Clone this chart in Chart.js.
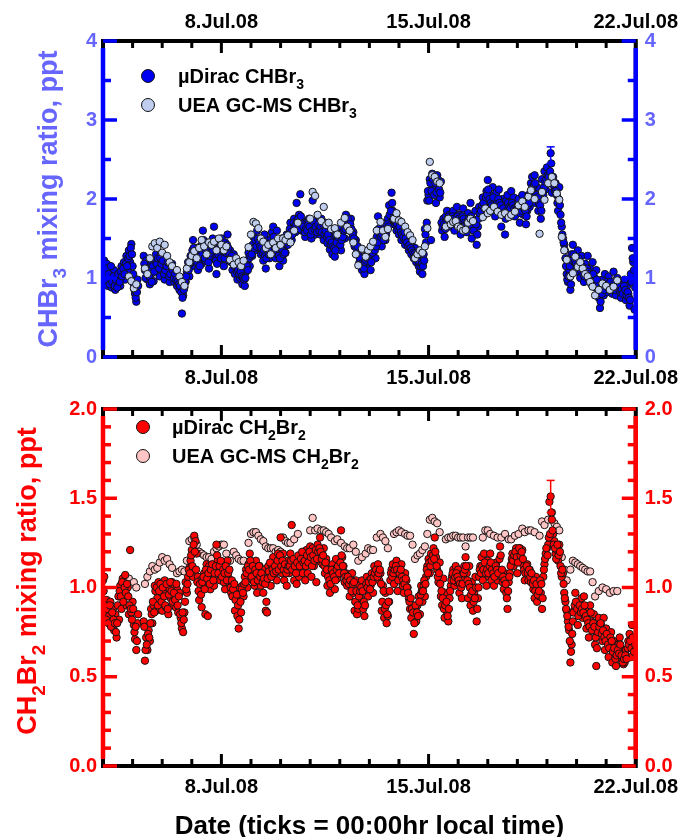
<!DOCTYPE html>
<html>
<head>
<meta charset="utf-8">
<script src="https://cdn.jsdelivr.net/npm/chart.js@4/dist/chart.umd.min.js"></script>
<style>
  html, body { margin: 0; padding: 0; background: #fff; }
  #wrap { position: relative; width: 687px; height: 837px; }
  canvas { position: absolute; left: 0; }
  #top { top: 0; }
  #bot { top: 388px; }
</style>
</head>
<body>
<div id="wrap">
  <canvas id="top" width="687" height="388"></canvas>
  <canvas id="bot" width="687" height="449"></canvas>
</div>
<script>
// x axis: day of July 2008; samples are given as hours after 4.Jul 00:00
const labelDays = [8, 15, 22];
const labelText = ["8.Jul.08", "15.Jul.08", "22.Jul.08"];

// --- µDirac: one sample on the hour and one at half past ---
const diracHours = [
  0,1,2,3,4,5,6,7,8,9,10,11,12,
  13,14,15,16,17,18,19,20,21,22,
  23,24,25,26,27,28,
  33,34,35,36,37,38,39,40,41,42,43,44,
  45,46,47,48,49,50,51,52,53,54,55,56,
  57,58,59,60,61,62,63,64,65,66,
  67,68,69,70,71,72,73,74,75,76,77,78,
  79,80,81,82,83,84,85,86,87,88,89,90,
  91,92,93,94,95,96,97,98,99,100,101,102,
  103,104,105,106,107,108,109,110,111,112,113,114,
  115,116,117,118,119,120,121,122,123,124,125,126,
  127,128,129,130,131,132,133,134,135,136,137,138,
  139,140,141,142,143,144,145,146,147,148,149,150,
  151,152,153,154,155,156,157,158,159,160,161,162,
  163,164,165,166,167,168,169,170,171,172,173,174,
  175,176,177,178,179,180,181,182,183,184,185,186,
  187,188,189,190,191,192,193,194,195,196,197,198,
  199,200,201,202,203,204,205,206,207,208,209,210,
  211,212,213,214,215,216,217,218,219,220,221,222,
  223,224,225,226,227,228,229,230,231,232,233,234,
  235,236,237,238,239,240,241,242,243,244,245,246,
  247,248,249,250,251,252,253,254,255,256,257,258,
  259,260,261,262,263,264,265,266,267,268,269,270,
  271,272,273,274,275,276,277,278,279,280,281,282,
  283,284,285,286,287,288,289,290,291,292,293,294,
  295,296,297,298,299,300,301,302,303,304,305,306,
  307,308,309,310,311,312,313,314,315,316,317,318,
  319,320,321,322,323,324,325,326,327,328,329,330,
  331,332,333,334,335,336,337,338,339,340,341,342,
  343,344,345,346,347,348,349,350,351,352,353,354,
  355,356,357,358,359,360,361,362,363,364,365,366,
  367,368,369,370,371,372,373,374,375,376,377,378,
  379,380,381,382,383,384,385,386,387,388,389,390,
  391,392,393,394,395,396,397,398,399,400,401,402,
  403,404,405,406,407,408,409,410,411,412,413,414,
  415,416,417,418,419,420,421,422,423,424,425,426,
  427,428,429,430,431
];

const diracCHBr3 = [
  1.05,1.22,0.95,1.18,0.90,1.00,1.08,0.88,0.95,1.10,0.85,1.00,0.92,
  1.05,0.90,1.15,1.00,1.20,0.98,1.28,1.10,1.35,1.20,
  1.43,1.15,0.92,0.80,0.70,0.98,
  1.28,1.10,1.22,0.98,1.15,0.92,1.05,1.20,0.96,1.12,1.30,1.08,
  1.20,1.02,1.30,1.10,1.15,0.98,1.25,1.05,1.12,0.95,1.08,1.18,
  1.05,0.95,1.10,0.90,1.00,0.85,0.92,0.55,0.78,0.88,
  0.95,1.08,1.20,1.02,1.28,1.15,1.48,1.30,1.22,1.38,1.10,1.25,
  1.40,1.18,1.60,1.35,1.22,1.45,1.30,1.12,1.38,1.25,1.50,1.65,
  1.30,1.05,1.42,1.20,1.35,1.50,1.28,1.15,1.45,1.30,1.55,1.22,
  1.35,1.20,1.10,1.30,1.05,1.18,0.98,1.12,1.00,1.15,0.92,1.05,
  0.90,1.08,1.20,1.32,1.15,1.40,1.28,1.52,1.35,1.45,1.60,1.38,
  1.50,1.30,1.42,1.22,1.55,1.12,1.35,1.48,1.25,1.40,1.58,1.65,
  1.45,1.25,1.60,1.38,1.15,1.30,1.50,1.22,1.40,1.32,1.55,1.42,
  1.55,1.70,1.48,1.62,1.75,1.58,1.95,1.68,1.80,2.06,1.60,1.72,
  1.65,1.52,1.70,1.58,1.75,1.62,1.50,1.98,1.68,1.55,1.72,1.60,
  1.66,1.55,1.75,1.62,1.48,1.70,1.58,1.44,1.62,1.36,1.52,1.30,
  1.45,1.27,1.55,1.40,1.62,1.48,1.35,1.58,1.70,1.50,1.80,1.65,
  1.72,1.60,1.75,1.50,1.58,1.40,1.48,1.30,1.35,1.20,1.25,1.10,
  1.18,1.05,1.28,1.15,1.35,1.22,1.10,1.40,1.30,1.45,1.25,1.52,
  1.78,1.50,1.62,1.40,1.55,1.68,1.48,1.60,1.75,1.92,1.70,2.08,
  1.85,1.68,1.78,1.60,1.72,1.55,1.66,1.48,1.60,1.50,1.42,1.55,
  1.45,1.35,1.50,1.30,1.40,1.25,1.38,1.20,1.32,1.15,1.08,1.25,
  1.05,1.30,1.62,1.45,1.98,2.05,2.25,1.48,2.32,2.15,2.28,1.95,
  2.30,2.18,2.02,2.22,1.60,1.75,1.52,1.78,1.85,1.70,1.80,1.65,
  1.72,1.85,1.60,1.78,1.90,1.65,1.80,1.55,1.70,1.88,1.62,1.75,
  1.58,1.82,1.68,1.95,1.50,1.72,1.60,1.85,1.42,1.65,1.90,1.78,
  1.88,2.02,1.80,1.95,2.10,2.24,1.90,2.05,1.85,2.15,1.98,1.78,
  2.08,1.92,2.12,1.85,1.65,2.00,1.90,1.55,1.98,2.05,1.82,1.95,
  2.10,1.88,2.02,1.78,1.95,1.85,2.00,1.70,1.90,2.05,1.80,1.95,
  1.68,1.85,2.05,1.90,2.20,2.28,2.10,2.30,1.95,2.15,1.85,2.00,
  1.75,2.25,2.05,2.35,2.12,2.40,2.20,2.32,2.58,2.08,2.28,2.15,
  2.20,2.05,1.85,2.15,1.80,1.65,1.50,1.42,1.25,1.05,0.95,1.10,
  0.85,1.30,1.42,1.15,1.25,1.08,1.35,1.20,1.00,1.28,1.12,0.95,
  1.18,1.05,1.28,0.98,1.12,0.92,1.20,1.02,0.88,1.10,0.95,0.75,
  0.62,0.85,0.98,0.78,1.05,0.90,0.82,1.02,0.88,0.95,0.80,1.08,
  0.92,0.78,1.00,0.85,0.95,0.75,0.88,0.82,0.98,0.72,0.90,0.80,
  0.65,1.05,1.38,1.20,0.60
];

const diracCHBr3Half = [
  1.10,1.02,1.12,0.98,1.05,0.92,1.15,0.95,1.02,0.90,0.98,0.88,1.05,
  0.95,1.08,1.02,1.12,1.05,1.18,1.15,1.25,1.28,1.38,
  1.30,1.05,0.85,0.75,0.82,0.90,
  1.18,1.00,1.12,1.05,1.02,1.10,0.95,1.15,1.08,1.22,1.18,1.25,
  1.12,1.25,1.18,1.22,1.05,1.10,1.15,1.20,1.02,1.05,1.15,1.10,
  1.00,1.05,0.98,0.95,0.92,0.90,0.82,0.75,0.85,0.95,
  1.02,1.12,1.10,1.18,1.20,1.35,1.38,1.22,1.30,1.20,1.32,1.15,
  1.28,1.30,1.48,1.25,1.35,1.30,1.20,1.28,1.32,1.42,1.35,1.45,
  1.22,1.18,1.30,1.38,1.25,1.40,1.35,1.25,1.32,1.42,1.38,1.30,
  1.25,1.28,1.20,1.15,1.22,1.08,1.10,1.05,1.08,1.02,1.00,0.98,
  1.00,1.15,1.10,1.25,1.28,1.30,1.42,1.38,1.48,1.40,1.50,1.45,
  1.40,1.38,1.32,1.35,1.28,1.25,1.42,1.30,1.35,1.50,1.45,1.52,
  1.35,1.40,1.45,1.28,1.25,1.40,1.35,1.30,1.32,1.45,1.48,1.50,
  1.62,1.58,1.55,1.70,1.65,1.68,1.72,1.75,1.62,1.78,1.68,1.65,
  1.58,1.62,1.60,1.68,1.65,1.55,1.60,1.72,1.62,1.65,1.58,1.68,
  1.60,1.65,1.58,1.68,1.55,1.60,1.52,1.55,1.48,1.42,1.45,1.40,
  1.38,1.35,1.45,1.52,1.55,1.42,1.48,1.52,1.60,1.62,1.70,1.75,
  1.65,1.68,1.62,1.55,1.50,1.45,1.38,1.40,1.28,1.25,1.18,1.15,
  1.12,1.20,1.22,1.25,1.28,1.30,1.20,1.32,1.38,1.35,1.40,1.45,
  1.62,1.58,1.52,1.55,1.48,1.60,1.55,1.68,1.65,1.80,1.85,1.95,
  1.75,1.72,1.70,1.68,1.62,1.65,1.58,1.55,1.52,1.58,1.50,1.45,
  1.40,1.42,1.38,1.35,1.32,1.30,1.28,1.25,1.22,1.20,1.15,1.18,
  1.15,1.22,1.55,1.70,2.10,1.98,2.20,2.10,2.25,2.05,2.20,2.08,
  2.25,2.12,2.08,1.70,1.65,1.68,1.62,1.72,1.75,1.78,1.72,1.70,
  1.78,1.75,1.70,1.72,1.78,1.75,1.72,1.65,1.78,1.75,1.70,1.68,
  1.70,1.75,1.62,1.78,1.65,1.60,1.72,1.68,1.55,1.75,1.82,1.85,
  1.92,1.95,1.88,2.02,2.05,2.12,2.00,1.95,1.92,2.02,1.90,1.88,
  1.95,2.00,1.95,1.92,1.80,1.88,1.82,1.75,1.85,1.95,1.90,1.88,
  1.95,1.92,1.88,1.85,1.90,1.92,1.88,1.82,1.85,1.92,1.88,1.85,
  1.78,1.92,1.95,2.05,2.12,2.15,2.18,2.20,2.05,2.02,1.95,1.92,
  1.85,2.10,2.15,2.22,2.25,2.30,2.28,2.35,2.45,2.22,2.18,2.10,
  2.10,1.95,2.00,1.92,1.70,1.55,1.45,1.35,1.15,0.98,1.02,1.15,
  0.92,1.22,1.30,1.20,1.18,1.15,1.25,1.12,1.10,1.15,1.05,1.02,
  1.10,1.12,1.08,1.05,1.02,1.00,1.05,0.95,0.92,0.98,0.85,0.82,
  0.70,0.80,0.88,0.85,0.92,0.95,0.88,0.92,0.95,0.85,0.88,0.92,
  0.85,0.88,0.90,0.92,0.82,0.85,0.80,0.90,0.85,0.78,0.82,0.75,
  0.72,0.95,1.25,1.10,0.88
];

const diracCH2Br2 = [
  1.04,1.06,0.88,0.93,0.86,0.84,0.92,0.81,0.88,0.76,0.85,0.72,0.90,
  0.82,1.01,0.88,1.05,0.95,1.07,0.90,1.00,0.85,1.21,
  0.86,0.92,0.79,0.71,0.65,0.80,
  0.81,0.59,0.72,0.65,0.76,0.70,0.88,0.80,0.90,1.01,0.87,0.94,
  1.03,0.88,1.01,0.87,0.97,1.04,0.89,1.00,0.85,0.99,0.94,1.03,
  0.90,1.01,0.89,0.99,0.86,0.97,0.83,0.77,0.75,0.86,
  1.03,0.97,1.06,1.11,1.15,1.21,1.06,1.29,1.26,1.19,1.06,0.93,
  1.04,0.89,1.01,1.08,0.85,1.13,0.84,1.12,0.99,1.06,1.10,1.01,
  1.06,1.24,1.15,1.10,1.04,1.08,1.13,1.03,0.99,1.10,1.15,1.05,
  1.02,0.97,0.95,0.99,0.87,1.00,0.84,0.77,0.96,0.86,1.01,0.95,
  1.06,1.10,1.00,1.13,1.19,1.11,1.04,1.08,1.01,1.15,0.97,1.08,
  1.12,1.01,1.06,0.97,1.10,0.87,0.86,1.12,1.08,1.01,1.12,1.17,
  1.06,1.13,1.04,1.19,1.13,1.28,1.08,1.19,1.04,1.12,1.01,1.15,
  1.08,1.19,1.35,1.10,1.04,1.15,1.02,1.12,1.06,1.10,1.15,1.08,
  1.19,1.04,1.21,1.08,1.15,1.23,1.06,1.22,1.12,1.18,1.03,1.24,
  1.15,1.28,1.20,1.13,1.22,1.08,1.16,1.01,1.10,0.97,1.06,1.13,
  1.10,0.99,1.16,1.05,1.12,1.08,1.32,1.17,1.12,1.03,1.08,1.01,
  1.06,0.95,1.01,1.08,0.97,0.87,1.04,0.85,0.88,1.01,0.94,1.04,
  0.88,0.84,0.99,1.06,0.95,1.04,1.01,1.08,0.97,1.12,1.06,1.10,
  1.13,1.04,1.08,0.87,1.01,0.83,0.97,0.80,0.84,0.92,1.04,1.10,
  1.13,1.02,1.08,1.15,0.98,1.11,1.06,1.13,1.01,0.97,1.08,1.04,
  1.00,0.94,0.88,0.83,0.90,0.74,0.86,0.81,0.90,0.95,0.85,1.01,
  0.92,1.01,0.95,1.06,1.12,1.16,1.08,1.19,1.13,1.22,1.28,1.17,
  1.10,1.03,1.14,0.95,0.90,1.05,0.83,0.97,0.86,0.81,0.94,1.01,
  1.06,1.10,1.01,1.12,1.03,1.10,0.97,1.06,0.94,1.04,1.12,1.17,
  1.08,0.94,1.12,0.90,1.03,0.87,0.97,1.06,0.81,0.94,1.06,1.12,
  1.17,1.04,1.19,1.12,1.01,1.15,1.06,1.19,1.04,1.12,1.01,1.08,
  1.14,1.04,1.10,1.23,1.06,1.03,0.99,1.08,0.97,0.88,1.03,1.08,
  1.13,1.19,1.12,1.17,1.22,1.08,1.19,1.22,1.15,1.21,1.12,1.04,
  1.08,1.13,1.04,1.10,1.03,1.06,0.99,0.94,1.06,0.92,1.01,0.95,
  0.97,0.88,1.06,1.13,1.19,1.22,1.24,1.48,1.51,1.38,1.30,1.26,
  1.19,1.21,1.15,1.24,1.12,1.06,1.08,0.97,0.92,0.87,0.81,0.76,
  0.58,0.68,0.81,0.87,0.97,0.92,0.79,0.87,0.90,0.94,0.83,0.95,
  0.88,0.77,0.85,0.72,0.90,0.81,0.76,0.85,0.68,0.56,0.79,0.83,
  0.76,0.79,0.70,0.83,0.65,0.77,0.72,0.61,0.68,0.75,0.58,0.70,
  0.63,0.56,0.60,0.68,0.72,0.61,0.65,0.57,0.58,0.65,0.61,0.70,
  0.74,0.61,0.79,0.68,0.64
];

const diracCH2Br2Half = [
  0.98,0.90,0.82,0.88,0.80,0.90,0.78,0.86,0.82,0.80,0.75,0.80,0.95,
  0.98,0.95,1.03,0.92,1.00,0.97,1.02,0.95,0.90,0.88,
  0.82,0.88,0.75,0.78,0.70,0.85,
  0.78,0.65,0.68,0.74,0.72,0.80,0.85,0.92,0.86,0.98,1.00,0.90,
  0.98,1.02,0.92,1.00,0.95,0.90,1.02,0.88,0.96,1.03,0.98,0.92,
  0.97,0.93,1.02,0.90,0.95,0.85,0.80,0.86,0.82,0.92,
  0.99,1.02,1.10,1.08,1.18,1.12,1.24,1.20,1.10,1.03,0.98,1.02,
  0.96,1.03,1.06,0.99,1.10,1.05,1.08,1.02,1.10,1.13,1.04,1.08,
  1.12,1.18,1.08,1.12,1.15,1.06,1.10,1.08,1.12,1.04,1.08,1.10,
  1.00,1.04,0.99,1.02,0.93,0.96,0.90,0.82,0.92,0.99,0.97,1.02,
  1.03,1.08,1.12,1.10,1.15,1.06,1.12,1.03,1.10,1.08,1.04,1.12,
  1.06,1.08,1.03,1.05,1.02,0.92,1.05,1.09,1.14,1.06,1.10,1.08,
  1.12,1.09,1.15,1.10,1.18,1.12,1.15,1.10,1.13,1.08,1.10,1.12,
  1.12,1.15,1.10,1.16,1.12,1.08,1.14,1.18,1.12,1.16,1.20,1.14,
  1.15,1.12,1.18,1.14,1.20,1.17,1.12,1.18,1.15,1.21,1.16,1.20,
  1.22,1.20,1.16,1.18,1.12,1.14,1.10,1.06,1.04,1.02,1.10,1.08,
  1.06,1.04,1.10,1.12,1.08,1.14,1.18,1.12,1.08,1.06,1.04,1.06,
  1.02,1.04,0.98,1.02,1.03,0.92,0.98,0.90,0.95,0.98,1.00,0.98,
  0.92,0.90,1.02,1.00,1.03,0.99,1.05,1.03,1.06,1.08,1.10,1.06,
  1.08,1.10,1.02,0.92,0.98,0.88,0.90,0.85,0.92,0.98,1.08,1.06,
  1.08,1.10,1.12,1.10,1.04,1.08,1.10,1.06,1.04,1.02,1.05,1.00,
  0.97,0.92,0.94,0.88,0.86,0.80,0.90,0.86,0.84,0.92,0.96,0.98,
  0.98,1.04,1.02,1.10,1.08,1.14,1.12,1.15,1.18,1.16,1.20,1.12,
  1.06,1.08,1.02,0.98,0.94,0.88,0.90,0.92,0.84,0.88,0.98,1.04,
  1.08,1.04,1.06,1.08,1.06,1.04,1.02,1.00,1.02,1.08,1.10,1.12,
  1.04,1.02,1.00,0.96,0.98,0.92,0.94,1.00,0.88,1.00,1.10,1.08,
  1.12,1.10,1.14,1.08,1.10,1.08,1.12,1.14,1.10,1.08,1.06,1.12,
  1.10,1.08,1.16,1.18,1.10,1.06,1.04,1.02,0.94,0.98,1.06,1.12,
  1.16,1.15,1.18,1.20,1.17,1.14,1.22,1.18,1.20,1.16,1.10,1.08,
  1.12,1.08,1.10,1.06,1.08,1.02,1.04,0.98,1.02,0.96,0.98,1.04,
  1.02,0.94,1.10,1.16,1.22,1.18,1.28,1.30,1.42,1.32,1.24,1.22,
  1.16,1.24,1.18,1.20,1.08,1.10,1.02,0.94,0.88,0.84,0.78,0.70,
  0.64,0.74,0.86,0.90,0.92,0.88,0.84,0.90,0.86,0.88,0.86,0.90,
  0.84,0.82,0.80,0.78,0.86,0.76,0.80,0.78,0.72,0.66,0.75,0.78,
  0.80,0.74,0.76,0.72,0.70,0.74,0.68,0.66,0.72,0.70,0.64,0.66,
  0.60,0.62,0.65,0.63,0.68,0.62,0.58,0.60,0.62,0.60,0.66,0.68,
  0.70,0.66,0.72,0.64,0.68
];

// --- UEA GC-MS ---
const ueaHours = [
  21,23,25,27,
  34,36,38,40,42,44,46,48,50,52,54,56,
  60,62,64,66,68,70,72,74,76,
  78,80,82,84,86,88,90,92,94,96,98,100,
  103,106,108,110,112,114,
  118,120,122,124,126,128,130,132,134,136,138,140,142,144,146,
  148,150,152,155,158,
  168,170,172,174,177,179,181,183,185,188,190,193,196,198,
  200,203,205,207,210,213,215,217,219,222,225,227,229,231,
  236,238,240,242,245,247,249,251,253,255,257,259,261,
  263,265,267,269,271,273,
  278,280,282,284,286,288,290,292,294,296,298,300,
  308,310,312,314,317,320,323,326,329,331,334,337,340,342,345,347,350,
  354,356,358,361,364,366,368,370,372,374,376,
  379,381,383,385,387,389,391,393,395,397,399,402,405,408,411,414,417
];

const ueaCHBr3 = [
  1.02,0.96,0.87,0.92,
  1.12,1.05,1.25,1.40,1.44,1.38,1.46,1.32,1.42,1.28,1.20,1.15,
  1.10,1.02,0.95,0.90,1.12,1.20,1.28,1.34,1.25,
  1.38,1.48,1.40,1.30,1.45,1.42,1.46,1.35,1.50,1.42,1.35,1.40,
  1.23,1.17,1.25,1.20,1.15,1.22,
  1.39,1.55,1.71,1.69,1.63,1.50,1.46,1.38,1.42,1.30,1.45,1.38,1.50,1.42,1.50,
  1.48,1.54,1.45,1.60,1.70,
  1.75,2.09,2.04,1.80,1.72,1.90,1.67,1.70,1.62,1.63,1.55,1.70,1.76,1.65,
  1.60,1.45,1.30,1.16,1.37,1.27,1.35,1.40,1.46,1.60,1.71,1.60,1.52,1.62,
  1.75,1.82,1.73,1.71,1.65,1.58,1.54,1.48,1.25,1.30,1.35,1.32,1.40,
  1.63,2.47,2.30,2.28,2.22,2.20,
  1.65,1.75,1.68,1.71,1.72,1.65,1.63,1.60,1.61,1.70,1.75,1.72,
  1.77,1.88,1.82,1.85,1.90,1.84,1.80,1.82,1.77,1.80,1.84,1.92,1.97,1.90,2.03,2.11,2.00,
  1.56,2.09,1.99,2.20,2.28,2.20,2.07,1.99,1.52,1.35,1.23,
  1.02,1.06,1.27,1.14,1.20,1.12,1.05,1.02,0.95,0.89,0.78,0.85,0.93,0.90,0.85,0.89,0.97
];

const ueaCH2Br2 = [
  1.05,1.02,1.03,1.00,
  1.02,1.06,1.09,1.12,1.10,1.11,1.14,1.17,1.15,1.16,1.13,1.11,
  1.08,1.09,1.10,1.09,1.15,1.26,1.27,1.28,1.24,
  1.20,1.19,1.18,1.17,1.17,1.16,1.20,1.22,1.23,1.24,1.24,1.19,
  1.15,1.20,1.18,1.16,1.15,1.15,
  1.25,1.30,1.31,1.31,1.29,1.27,1.26,1.23,1.22,1.22,1.22,1.20,1.21,1.20,1.28,
  1.26,1.25,1.25,1.27,1.30,
  1.32,1.39,1.32,1.33,1.32,1.32,1.31,1.30,1.28,1.26,1.27,1.25,1.23,1.22,
  1.22,1.24,1.20,1.15,1.17,1.19,1.22,1.21,1.21,1.28,1.30,1.28,1.26,1.22,
  1.30,1.31,1.32,1.31,1.30,1.29,1.29,1.24,1.16,1.18,1.19,1.21,1.23,
  1.30,1.38,1.39,1.37,1.36,1.31,
  1.27,1.28,1.28,1.29,1.29,1.28,1.28,1.28,1.23,1.28,1.28,1.28,
  1.28,1.32,1.32,1.30,1.29,1.28,1.28,1.30,1.27,1.27,1.29,1.30,1.33,1.31,1.32,1.32,1.31,
  1.29,1.37,1.35,1.38,1.42,1.36,1.34,1.32,1.17,1.10,1.04,
  1.10,1.15,1.14,1.13,1.12,1.11,1.10,1.09,1.09,1.03,0.95,0.98,1.00,0.99,0.97,0.98,0.98
];

// single error bar on each panel
const errHour = 363;
const chbr3Err = [2.45, 2.66];
const ch2br2Err = [1.42, 1.60];

const FONT = '"Liberation Sans", Arial, Helvetica, sans-serif';
Chart.defaults.font.family = FONT;
Chart.defaults.font.weight = "bold";

const toPts = (hours, vals, offset = 0) => hours.map((h, i) => ({ x: 4 + (h + offset) / 24, y: vals[i] }));
const dayLabel = (v) => { const i = labelDays.indexOf(v); return i >= 0 ? labelText[i] : ""; };

// draw text where "_3" means a subscript 3; returns width
function rich(ctx, str, x, y, size, measureOnly) {
  const parts = str.split(/(_\d)/).filter(Boolean);
  let cx = x;
  for (const p of parts) {
    const sub = p[0] === "_";
    const t = sub ? p.slice(1) : p;
    ctx.font = `bold ${sub ? Math.round(size * 0.7) : size}px ${FONT}`;
    if (!measureOnly) ctx.fillText(t, cx, sub ? y + size * 0.3 : y);
    cx += ctx.measureText(t).width;
  }
  return cx - x;
}

function seg(ctx, x1, y1, x2, y2) {
  ctx.beginPath(); ctx.moveTo(x1, y1); ctx.lineTo(x2, y2); ctx.stroke();
}

// frame, inward ticks, coloured y axes, error bar, legend, y title
function makePanel(o) {
  return {
    id: "panel",
    afterDatasetsDraw(chart) {
      const { ctx, chartArea: a } = chart;
      const xs = chart.scales.x, ys = chart.scales.y;
      ctx.save();

      // error bar
      ctx.strokeStyle = o.axisColor; ctx.lineWidth = 1.5;
      const ex = xs.getPixelForValue(4 + errHour / 24);
      const e0 = ys.getPixelForValue(o.err[0]), e1 = ys.getPixelForValue(o.err[1]);
      seg(ctx, ex, e0, ex, e1);
      seg(ctx, ex - 4, e0, ex + 4, e0);
      seg(ctx, ex - 4, e1, ex + 4, e1);

      // black frame + x ticks
      ctx.strokeStyle = "#000"; ctx.lineWidth = 4;
      ctx.strokeRect(a.left, a.top, a.right - a.left, a.bottom - a.top);
      ctx.lineWidth = 3;
      for (const t of xs.ticks) {
        const px = xs.getPixelForValue(t.value);
        const len = labelDays.includes(t.value) ? 12 : 7;
        seg(ctx, px, a.top, px, a.top + len);
        seg(ctx, px, a.bottom, px, a.bottom - len);
      }

      // coloured y axes
      ctx.strokeStyle = o.axisColor; ctx.lineWidth = 4.5;
      seg(ctx, a.left, a.top + 7, a.left, a.bottom - 7);
      seg(ctx, a.right, a.top + 7, a.right, a.bottom - 7);
      ctx.lineWidth = 3.5;
      for (const t of ys.ticks) {
        const py = ys.getPixelForValue(t.value);
        const r = t.value / o.majorStep;
        const len = Math.abs(r - Math.round(r)) < 1e-6 ? 14 : 8;
        seg(ctx, a.left, py, a.left + len, py);
        seg(ctx, a.right, py, a.right - len, py);
      }

      // legend
      ctx.textAlign = "left"; ctx.textBaseline = "alphabetic";
      o.legend.forEach((l) => {
        ctx.beginPath(); ctx.arc(l.mx, l.my, 6.5, 0, Math.PI * 2);
        ctx.fillStyle = l.fill; ctx.fill();
        ctx.lineWidth = 1; ctx.strokeStyle = "#111"; ctx.stroke();
        ctx.fillStyle = "#000";
        rich(ctx, l.text, l.tx, l.ty, 20);
      });

      // y title (rotated)
      ctx.save();
      ctx.translate(o.titleX, o.titleY);
      ctx.rotate(-Math.PI / 2);
      ctx.fillStyle = o.labelColor;
      const w = rich(ctx, o.title, 0, 0, 27, true);
      rich(ctx, o.title, -w / 2, 27 * 0.35, 27);
      ctx.restore();

      ctx.restore();
    },
  };
}

function dotSet(label, pts, fill, order) {
  return {
    label, data: pts, order,
    backgroundColor: fill, borderColor: "#151515", borderWidth: 1,
    pointRadius: 3.7, pointHoverRadius: 3.7, showLine: false,
  };
}

function makeChart(id, o) {
  const xTicks = (pad) => ({
    stepSize: 1, autoSkip: false, maxRotation: 0, maxTicksLimit: 100,
    color: "#000", font: { size: 20, weight: "bold" }, padding: pad, callback: dayLabel,
  });
  const yTicks = (pad) => ({
    stepSize: o.yStep, autoSkip: false, maxTicksLimit: 100,
    color: o.labelColor, font: { size: 20, weight: "bold" }, padding: pad, callback: o.yLabel,
  });
  const base = { type: "linear", grid: { display: false, drawTicks: false }, border: { display: false } };
  const scales = {
    x: { ...base, position: "bottom", min: 4, max: 22, ticks: xTicks(9),
         afterFit: (s) => { s.height = o.xHeight; }, title: o.xTitle || { display: false } },
    y: { ...base, position: "left", min: 0, max: o.yMax, ticks: yTicks(6),
         afterFit: (s) => { s.width = 103; } },
    yR: { ...base, position: "right", min: 0, max: o.yMax, ticks: yTicks(9),
          afterFit: (s) => { s.width = 48; } },
  };
  if (o.topLabels) {
    scales.xTop = { ...base, position: "top", min: 4, max: 22, ticks: xTicks(7),
                    afterFit: (s) => { s.height = 41; } };
  }
  return new Chart(document.getElementById(id), {
    type: "scatter",
    data: { datasets: o.datasets },
    options: {
      responsive: false, animation: false, events: [],
      layout: { padding: { top: o.padTop || 0 } },
      plugins: { legend: { display: false }, tooltip: { enabled: false } },
      scales,
    },
    plugins: [makePanel(o)],
  });
}

// CHBr3 panel
makeChart("top", {
  yMax: 4, yStep: 0.5, majorStep: 1,
  yLabel: (v) => (Number.isInteger(v) ? String(v) : ""),
  labelColor: "#6666ff", axisColor: "#0000ff",
  xHeight: 31, topLabels: true,
  err: chbr3Err,
  title: "CHBr_3 mixing ratio, ppt", titleX: 48, titleY: 199,
  legend: [
    { text: "µDirac CHBr_3", fill: "#0000f0", mx: 148, my: 76, tx: 178, ty: 83 },
    { text: "UEA GC-MS CHBr_3", fill: "#bfcdef", mx: 148, my: 105, tx: 178, ty: 112 },
  ],
  datasets: [
    dotSet("UEA GC-MS CHBr3", toPts(ueaHours, ueaCHBr3), "#bfcdef", 0),
    dotSet("µDirac CHBr3", toPts(diracHours, diracCHBr3).concat(toPts(diracHours, diracCHBr3Half, 0.5)), "#0000f0", 1),
  ],
});

// CH2Br2 panel
makeChart("bot", {
  yMax: 2, yStep: 0.1, majorStep: 0.5,
  yLabel: (v) => { const r = v * 2; return Math.abs(r - Math.round(r)) < 1e-6 ? v.toFixed(1) : ""; },
  labelColor: "#ff0000", axisColor: "#ff0000",
  xHeight: 71, padTop: 9,
  xTitle: { display: true, text: "Date (ticks = 00:00hr local time)", color: "#000",
            font: { size: 26, weight: "bold", lineHeight: 1 }, padding: { top: 0, bottom: -3 } },
  err: ch2br2Err,
  title: "CH_2Br_2 mixing ratio, ppt", titleX: 27, titleY: 193,
  legend: [
    { text: "µDirac CH_2Br_2", fill: "#ff0000", mx: 143, my: 39, tx: 172, ty: 46 },
    { text: "UEA GC-MS CH_2Br_2", fill: "#ffc4c4", mx: 143, my: 68, tx: 172, ty: 75 },
  ],
  datasets: [
    dotSet("µDirac CH2Br2", toPts(diracHours, diracCH2Br2).concat(toPts(diracHours, diracCH2Br2Half, 0.5)), "#ff0000", 0),
    dotSet("UEA GC-MS CH2Br2", toPts(ueaHours, ueaCH2Br2), "#ffc4c4", 1),
  ],
});
</script>
</body>
</html>
